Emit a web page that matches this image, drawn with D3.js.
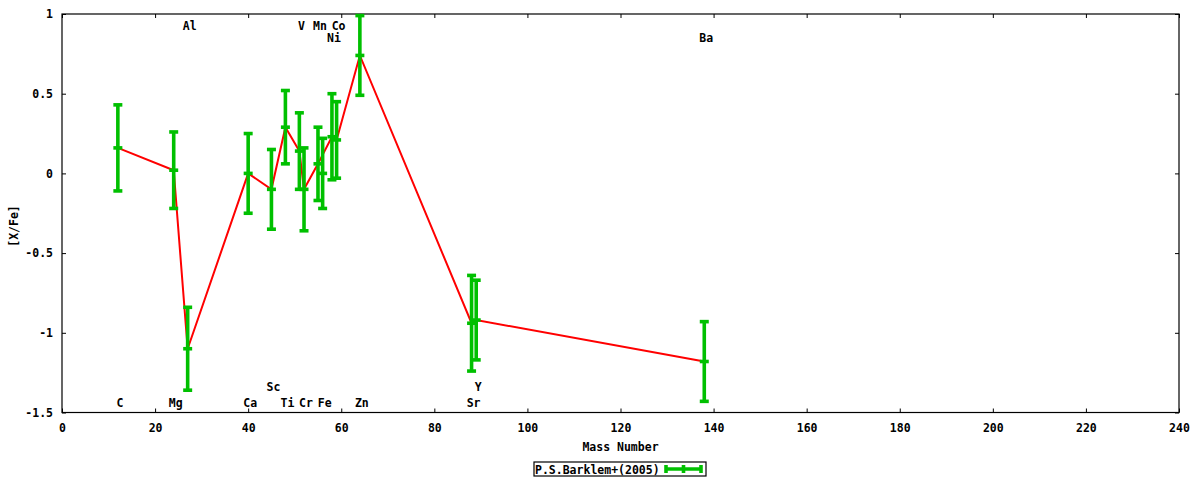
<!DOCTYPE html>
<html>
<head>
<meta charset="utf-8">
<script src="https://cdn.jsdelivr.net/npm/d3@7"></script>
<style>
  body { margin: 0; background: #fff; }
  svg text { font-family: "DejaVu Sans Mono", monospace; font-weight: bold; font-size: 11.5px; fill: #000; }
</style>
</head>
<body>
<div id="chart"></div>
<script>
// element, mass number, [X/Fe] and error
const elements = ["C", "Mg", "Al", "Ca", "Sc", "Ti", "V", "Cr", "Mn", "Fe", "Ni", "Co", "Zn", "Sr", "Y", "Ba"];
const massNumbers = [12, 24, 27, 40, 45, 48, 51, 52, 55, 56, 58, 59, 64, 88, 89, 138];
const xFe = [0.16, 0.02, -1.10, 0.00, -0.10, 0.29, 0.14, -0.10, 0.06, 0.00, 0.23, 0.21, 0.74, -0.94, -0.92, -1.18];
const xFeErr = [0.27, 0.24, 0.26, 0.25, 0.25, 0.23, 0.24, 0.26, 0.23, 0.22, 0.27, 0.24, 0.25, 0.30, 0.25, 0.25];
// red line runs through these elements (Fe is not on it)
const lineElements = ["C", "Mg", "Al", "Ca", "Sc", "Ti", "V", "Cr", "Mn", "Ni", "Co", "Zn", "Sr", "Y", "Ba"];
const xTicks = [0, 20, 40, 60, 80, 100, 120, 140, 160, 180, 200, 220, 240];
const yTicks = [-1.5, -1, -0.5, 0, 0.5, 1];
const legendLabel = "P.S.Barklem+(2005)";

const width = 1200, height = 480;
const margin = {top: 14, right: 21, bottom: 67.5, left: 62};
const green = "#00c000";

// where each element name sits: top rows or bottom rows of the frame
const labelSlot = {Al: "top", V: "top", Mn: "top", Co: "top", Ni: "top2", Ba: "top2", Sc: "bot2", Y: "bot2"};

const data = elements.map((el, i) => ({el, mass: massNumbers[i], v: xFe[i], err: xFeErr[i]}));

const svg = d3.select("#chart").append("svg")
    .attr("width", width)
    .attr("height", height);

const x = d3.scaleLinear().domain([0, 240]).range([margin.left, width - margin.right]);
const y = d3.scaleLinear().domain([-1.5, 1]).range([height - margin.bottom, margin.top]);

//Axes with inward ticks, mirrored on top and right
const tick = 4;
svg.append("g")
    .attr("transform", `translate(0,${y(-1.5)})`)
    .call(d3.axisBottom(x).tickValues(xTicks).tickFormat(d3.format("d")).tickSizeInner(-tick).tickSizeOuter(0).tickPadding(11))
    .call(g => g.select(".domain").remove());
svg.append("g")
    .attr("transform", `translate(0,${y(1)})`)
    .call(d3.axisTop(x).tickValues(xTicks).tickFormat("").tickSizeInner(-tick).tickSizeOuter(0))
    .call(g => g.select(".domain").remove());
svg.append("g")
    .attr("transform", `translate(${x(0)},0)`)
    .call(d3.axisLeft(y).tickValues(yTicks).tickFormat(d => String(d)).tickSizeInner(-tick).tickSizeOuter(0).tickPadding(9))
    .call(g => g.select(".domain").remove());
svg.append("g")
    .attr("transform", `translate(${x(240)},0)`)
    .call(d3.axisRight(y).tickValues(yTicks).tickFormat("").tickSizeInner(-tick).tickSizeOuter(0))
    .call(g => g.select(".domain").remove());
svg.selectAll(".tick line").attr("stroke", "#000");
svg.selectAll(".tick text").style("font-size", "11.5px").style("font-family", "DejaVu Sans Mono").style("font-weight", "bold");

svg.append("rect")
    .attr("x", x(0)).attr("y", y(1))
    .attr("width", x(240) - x(0)).attr("height", y(-1.5) - y(1))
    .attr("fill", "none").attr("stroke", "#000").attr("stroke-width", 1.2);

//Axis titles
svg.append("text")
    .attr("x", (x(0) + x(240)) / 2).attr("y", 451)
    .attr("text-anchor", "middle")
    .text("Mass Number");
svg.append("text")
    .attr("transform", `translate(18,226) rotate(-90)`)
    .attr("text-anchor", "middle")
    .text("[X/Fe]");

//Red line
const byEl = new Map(data.map(d => [d.el, d]));
const line = d3.line().x(d => x(d.mass)).y(d => y(d.v));
svg.append("path")
    .datum(lineElements.map(e => byEl.get(e)))
    .attr("fill", "none")
    .attr("stroke", "#ff0000")
    .attr("stroke-width", 2)
    .attr("d", line);

//Error bars
const cap = 4.5;
const bars = svg.append("g").attr("stroke", green).attr("stroke-width", 3.6);
data.forEach(d => {
    const cx = x(d.mass);
    const top = Math.max(y(d.v + d.err), y(1));
    const bot = Math.min(y(d.v - d.err), y(-1.5));
    bars.append("line").attr("x1", cx).attr("x2", cx).attr("y1", top).attr("y2", bot);
    [d.v + d.err, d.v, d.v - d.err].forEach(val => {
        if (val > 1.0001 || val < -1.5001) return;
        bars.append("line")
            .attr("x1", cx - cap).attr("x2", cx + cap)
            .attr("y1", y(val)).attr("y2", y(val));
    });
});

//Element labels
const slotY = {top: 30, top2: 42, bot: 407, bot2: 391};
svg.append("g").selectAll("text")
    .data(data)
    .enter()
    .append("text")
    .attr("x", d => x(d.mass) + 2)
    .attr("y", d => slotY[labelSlot[d.el] || "bot"])
    .attr("text-anchor", "middle")
    .text(d => d.el);

//Legend
const lg = svg.append("g");
lg.append("rect")
    .attr("x", 534).attr("y", 462)
    .attr("width", 172).attr("height", 14)
    .attr("fill", "none").attr("stroke", "#000").attr("stroke-width", 1.2);
lg.append("text")
    .attr("x", 535).attr("y", 473.5)
    .text(legendLabel);
const ly = 469, lx1 = 666, lx2 = 701;
lg.append("line").attr("x1", lx1).attr("x2", lx2).attr("y1", ly).attr("y2", ly)
    .attr("stroke", green).attr("stroke-width", 3.6);
[lx1, (lx1 + lx2) / 2, lx2].forEach(px => {
    lg.append("line").attr("x1", px).attr("x2", px).attr("y1", ly - 4).attr("y2", ly + 4)
        .attr("stroke", green).attr("stroke-width", 3.6);
});
</script>
</body>
</html>
